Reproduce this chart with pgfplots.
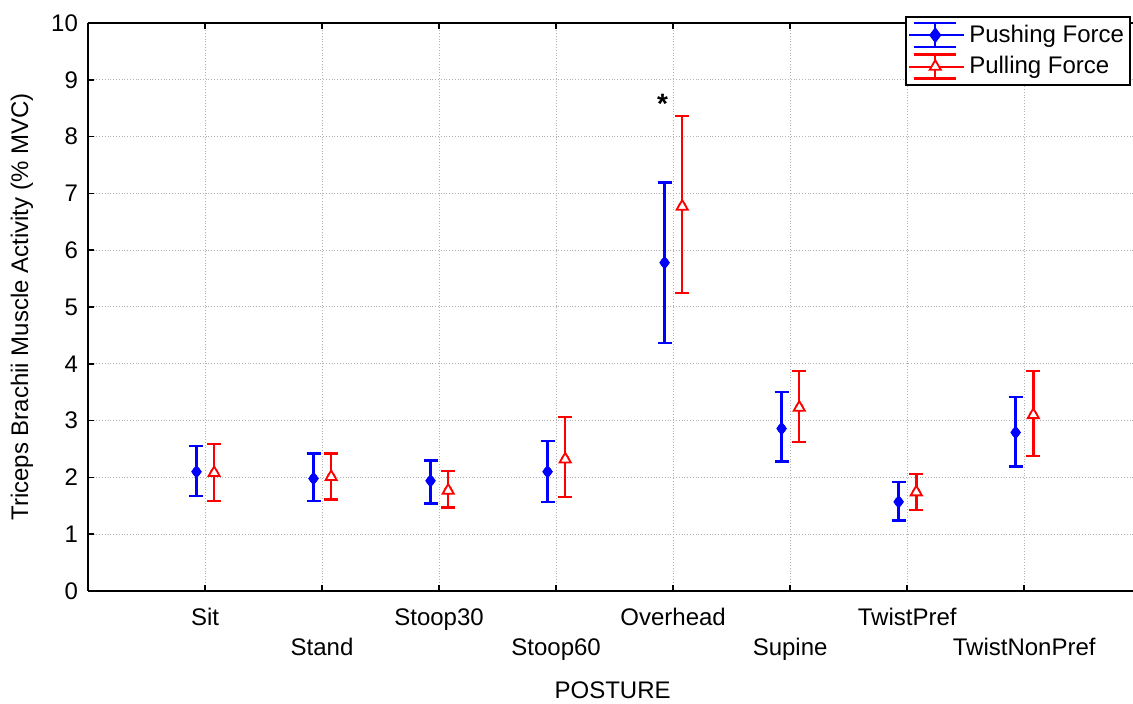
\documentclass[border=0pt]{standalone}
\usepackage{fontspec}
\setmainfont{Liberation Sans}
\usepackage{pgfplots}
\pgfplotsset{compat=1.18}
\usepackage{pgfplotstable}

\pgfplotstableread{
c y hi lo
0 2.10 2.55 1.67
1 1.98 2.42 1.58
2 1.94 2.30 1.54
3 2.10 2.64 1.57
4 5.78 7.19 4.37
5 2.86 3.50 2.28
6 1.57 1.92 1.24
7 2.79 3.42 2.19
}\push

\pgfplotstableread{
c y hi lo
0 2.08 2.59 1.58
1 2.01 2.42 1.61
2 1.77 2.11 1.47
3 2.32 3.06 1.65
4 6.77 8.36 5.25
5 3.23 3.87 2.62
6 1.74 2.06 1.43
7 3.10 3.87 2.38
}\pull

\begin{document}
\begin{tikzpicture}
\begin{axis}[
  at={(0,0)}, anchor=south west,
  scale only axis, width=522.5pt, height=284pt,
  xmin=-1, xmax=7.93, ymin=0, ymax=10,
  xtick={0,...,7},
  xticklabels={{\strut Sit},{\strut\\\strut Stand},{\strut Stoop30},{\strut\\\strut Stoop60},{\strut Overhead},{\strut\\\strut Supine},{\strut TwistPref},{\strut\\\strut TwistNonPref}},
  xticklabel style={align=center, font=\fontsize{12}{15}\selectfont, yshift=-3pt},
  ytick={0,...,10},
  yticklabel style={font=\fontsize{12}{14}\selectfont, xshift=-1.5pt},
  /pgf/number format/assume math mode=true,
  grid=major,
  major grid style={densely dotted, black!30, line width=0.5pt},
  axis line style={line width=1pt, black},
  axis y line*=left, axis x line*=box,
  tick style={black, line width=0.8pt},
  tick align=inside, major tick length=3pt,
  xlabel={POSTURE},
  ylabel={Triceps Brachii Muscle Activity (\% MVC)},
  every axis x label/.style={at={(axis description cs:0.502,0)}, yshift=-49.5pt, anchor=center, font=\fontsize{12}{14}\selectfont},
  every axis y label/.style={at={(axis description cs:0,0.5)}, xshift=-33pt, rotate=90, anchor=center, font=\fontsize{12}{14}\selectfont},
  legend style={at={(1,1)}, anchor=north east, xshift=-1pt, yshift=3.5pt,
    draw=black, line width=1pt, font=\fontsize{12}{14}\selectfont,
    inner xsep=1pt, inner ysep=2pt, row sep=1.5pt, cells={anchor=west}},
  legend image code/.code={
    \path (-2.5pt,0pt) -- (25pt,0pt);
    \draw[#1,mark=none,line width=1.2pt] (0pt,6pt)--(21pt,6pt) (10.5pt,6pt)--(10.5pt,-6pt) (0pt,-6pt)--(21pt,-6pt);
    \draw[#1] plot coordinates {(10.5pt,0pt)};
  },
]
% error bars
\addplot[blue, forget plot, only marks, mark=none,
  error bars/.cd, y dir=both, y explicit,
  error bar style={line width=1.2pt},
  error mark options={rotate=90, mark size=3.5pt, line width=1.2pt}]
  table[x expr=\thisrow{c}-0.073, y=y,
        y error plus expr=\thisrow{hi}-\thisrow{y},
        y error minus expr=\thisrow{y}-\thisrow{lo}] {\push};
\addplot[red, forget plot, only marks, mark=none,
  error bars/.cd, y dir=both, y explicit,
  error bar style={line width=1.2pt},
  error mark options={rotate=90, mark size=3.5pt, line width=1.2pt}]
  table[x expr=\thisrow{c}+0.078, y=y,
        y error plus expr=\thisrow{hi}-\thisrow{y},
        y error minus expr=\thisrow{y}-\thisrow{lo}] {\pull};
% markers
\addplot[blue, only marks, mark=diamond*, mark size=3.2pt, mark options={solid, fill=blue}]
  table[x expr=\thisrow{c}-0.073, y=y] {\push};
\addlegendentry{Pushing Force}
\addplot[red, only marks, mark=triangle*, mark size=3.2pt, mark options={solid, fill=white, line width=0.9pt}]
  table[x expr=\thisrow{c}+0.078, y=y] {\pull};
\addlegendentry{Pulling Force}
\node[font=\fontsize{14}{14}\selectfont\bfseries, anchor=base] at (axis cs:3.91,8.415) {*};
\end{axis}
\pgfresetboundingbox
\path (-44pt,-56.5pt) rectangle (522.5pt,295.5pt);
\end{tikzpicture}
\end{document}
